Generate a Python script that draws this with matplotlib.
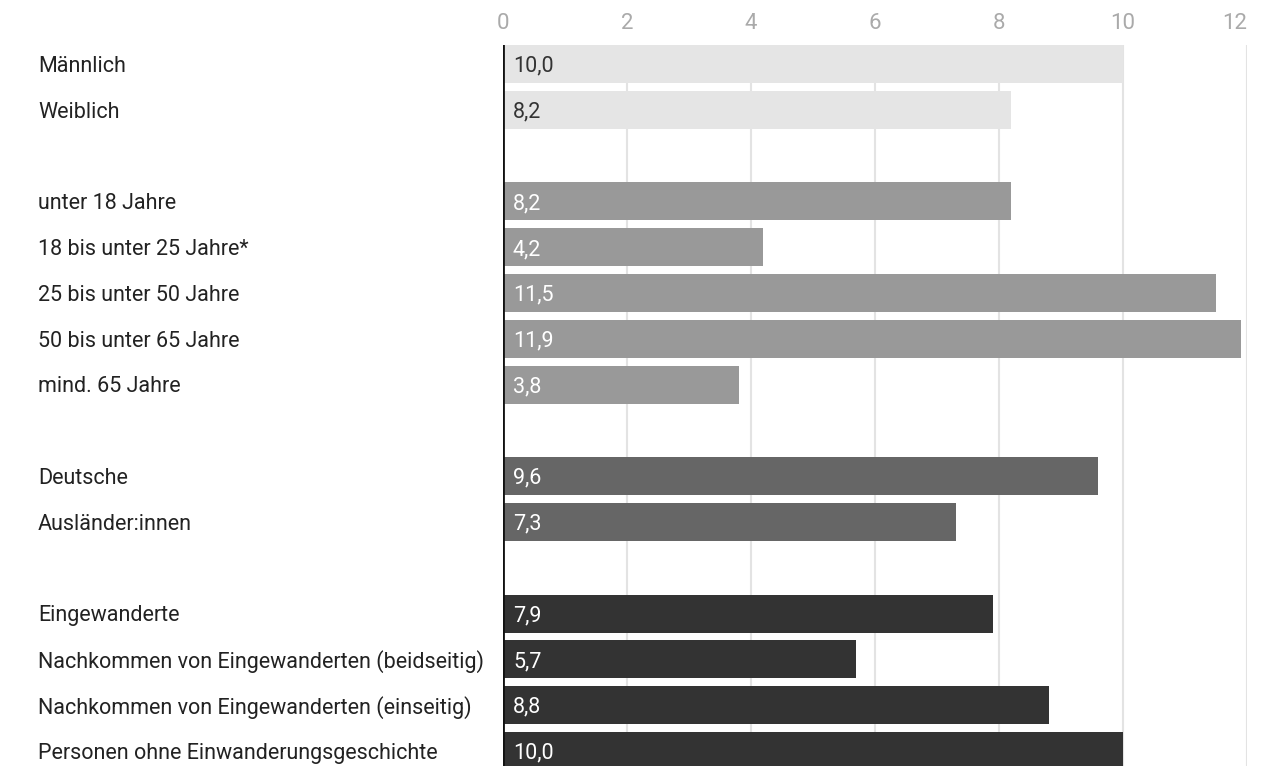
import matplotlib
matplotlib.use("Agg")
import matplotlib.pyplot as plt
import matplotlib.transforms as mtransforms

plt.rcParams["font.family"] = ["Roboto", "DejaVu Sans"]

labels = [
    "Männlich", "Weiblich", None,
    "unter 18 Jahre", "18 bis unter 25 Jahre*", "25 bis unter 50 Jahre",
    "50 bis unter 65 Jahre", "mind. 65 Jahre", None,
    "Deutsche", "Ausländer:innen", None,
    "Eingewanderte", "Nachkommen von Eingewanderten (beidseitig)",
    "Nachkommen von Eingewanderten (einseitig)",
    "Personen ohne Einwanderungsgeschichte",
]
values = [10.0, 8.2, None, 8.2, 4.2, 11.5, 11.9, 3.8, None,
          9.6, 7.3, None, 7.9, 5.7, 8.8, 10.0]
groups = [0, 0, None, 1, 1, 1, 1, 1, None, 2, 2, None, 3, 3, 3, 3]

group_colors = ["#e5e5e5", "#999999", "#666666", "#333333"]
text_colors = ["#333333", "white", "white", "white"]
ticks = [0, 2, 4, 6, 8, 10, 12]

W, H = 1262, 766
fig = plt.figure(figsize=(W / 100, H / 100), dpi=100)
ax = fig.add_axes([503 / W, 0, (1247 - 503) / W, (766 - 45) / H])

bar_h = 0.83
dy = 0.05  # small downward nudge for text, as in the original
for i, (lab, v, g) in enumerate(zip(labels, values, groups)):
    if v is None:
        continue
    ax.barh(i, v, height=bar_h, color=group_colors[g], zorder=2)
    ax.text(0.16, i + dy, f"{v:.1f}".replace(".", ","), va="center", ha="left",
            fontsize=15.5, color=text_colors[g], zorder=3)

trans = mtransforms.blended_transform_factory(fig.transFigure, ax.transData)
for i, lab in enumerate(labels):
    if lab is None:
        continue
    ax.text(38 / W, i + dy, lab, transform=trans, va="center", ha="left",
            fontsize=15.5, color="#222222")

ax.set_xlim(0, 12)
ax.set_ylim(15.33, -bar_h / 2)

for t in ticks[1:]:
    ax.axvline(t, color="#e3e3e3", linewidth=1.5, zorder=1)
ax.axvline(0, color="#111111", linewidth=2, zorder=4)

ax.xaxis.tick_top()
ax.set_xticks(ticks)
ax.set_xticklabels([str(t) for t in ticks])
ax.tick_params(axis="x", length=0, pad=8, labelsize=16, labelcolor="#aaaaaa")
ax.get_xticklabels()[-1].set_horizontalalignment("right")
ax.set_yticks([])
for s in ax.spines.values():
    s.set_visible(False)

fig.savefig("out.png", dpi=100)
